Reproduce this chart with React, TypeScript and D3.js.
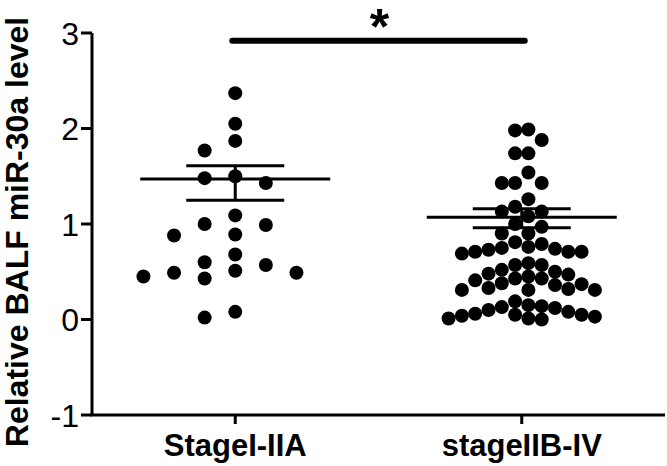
import React from 'react';
import * as d3 from 'd3';

const categories = ['StageI-IIA', 'stageIIB-IV'];

const stageIValues = [
  2.37, 2.05, 1.87, 1.77, 1.50, 1.48, 1.43, 1.09, 1.00, 0.99, 0.89, 0.88,
  0.68, 0.60, 0.57, 0.51, 0.49, 0.49, 0.45, 0.43, 0.08, 0.02,
];

const stageIIValues = [
  0.04,
  0.52, 0.15,
  0.73, 0.57, 0.41, 0.12,
  0.90, 0.74, 0.36, 0.14,
  1.13, 0.81, 0.57, 0.37, 0.01,
  1.88, 1.54, 1.13, 0.69, 0.32, 0.13,
  1.99, 1.74, 1.43, 0.97, 0.79, 0.50, 0.33, 0.01,
  1.74, 1.43, 1.00, 0.76, 0.48, 0.31, 0.03,
  1.98, 1.43, 1.26, 1.08, 0.90, 0.71, 0.47, 0.19, 0.00,
  1.18, 0.71, 0.43, 0.06,
  0.75, 0.59, 0.38, 0.10,
  0.71, 0.43, 0.05,
  0.45, 0.31, 0.05,
  0.31, 0.08,
];

const meanValues = [1.47, 1.07];
const errUpper = [1.61, 1.16];
const errLower = [1.25, 0.96];

const yTicks = [-1, 0, 1, 2, 3];
const yLabel = 'Relative BALF miR-30a level';
const sigLabel = '*';
const sigLevel = 2.92;

const W = 667;
const H = 466;
const FONT = 'Arial, "Liberation Sans", Helvetica, sans-serif';

function swarm(
  values: number[],
  yPos: (v: number) => number,
  step: number,
  sx: number,
  sy: number,
  half: boolean
): number[] {
  const order = d3.range(values.length).sort((a, b) => values[b] - values[a]);
  const placed: { x: number; y: number }[] = [];
  const out: number[] = new Array(values.length).fill(0);
  const cands: number[] = [];
  for (let k = 0; k < 40; k++) {
    if (half) {
      cands.push((k + 0.5) * step, -(k + 0.5) * step);
    } else if (k === 0) {
      cands.push(0);
    } else {
      cands.push(-k * step, k * step);
    }
  }
  for (const i of order) {
    const py = yPos(values[i]);
    for (const cx of cands) {
      const ok = placed.every(
        (p) => ((p.x - cx) / sx) ** 2 + ((p.y - py) / sy) ** 2 >= 1 - 1e-6
      );
      if (ok) {
        out[i] = cx;
        placed.push({ x: cx, y: py });
        break;
      }
    }
  }
  return out;
}

export default function App() {
  const x = d3.scaleBand<string>().domain(categories).range([92, 665]).padding(0);
  const y = d3.scaleLinear().domain([-1, 3]).range([415, 33]);
  const cx = (c: string) => (x(c) as number) + x.bandwidth() / 2;

  const groups = [stageIValues, stageIIValues];
  const swarmParams = [
    { step: 15.3, sx: 30.6, sy: 15, half: false },
    { step: 13.3, sx: 13.3, sy: 13.3, half: true },
  ];
  const offsets = groups.map((vals, gi) => {
    const p = swarmParams[gi];
    return swarm(vals, (v) => y(v), p.step, p.sx, p.sy, p.half);
  });

  const meanHalf = 95;
  const capHalf = 49;
  const lw = 3;

  return (
    <svg
      width={W}
      height={H}
      style={{ position: 'absolute', left: 0, top: 0, background: '#fff' }}
      fontFamily={FONT}
    >
      <rect x={0} y={0} width={W} height={H} fill="#fff" />
      {/* y axis */}
      <line x1={92} x2={92} y1={y(3)} y2={y(-1)} stroke="#000" strokeWidth={lw} />
      {yTicks.map((t) => (
        <g key={t}>
          <line x1={81} x2={92} y1={y(t)} y2={y(t)} stroke="#000" strokeWidth={lw} />
          <text
            x={79}
            y={y(t)}
            dy="0.36em"
            textAnchor="end"
            fontSize={32}
            fill="#000"
          >
            {t}
          </text>
        </g>
      ))}
      {/* x axis */}
      <line x1={90.5} x2={665} y1={y(-1)} y2={y(-1)} stroke="#000" strokeWidth={lw} />
      {categories.map((c) => (
        <g key={c}>
          <line x1={cx(c)} x2={cx(c)} y1={y(-1)} y2={y(-1) + 9} stroke="#000" strokeWidth={lw} />
          <text
            x={cx(c)}
            y={456}
            textAnchor="middle"
            fontSize={31}
            fontWeight="bold"
            fill="#000"
          >
            {c}
          </text>
        </g>
      ))}
      {/* y label */}
      <text
        transform={`translate(28, 232) rotate(-90)`}
        textAnchor="middle"
        fontSize={32}
        fontWeight="bold"
        fill="#000"
      >
        {yLabel}
      </text>
      {/* points */}
      {groups.map((vals, gi) =>
        vals.map((v, i) => (
          <circle
            key={`${gi}-${i}`}
            cx={cx(categories[gi]) + offsets[gi][i]}
            cy={y(v)}
            r={7}
            fill="#000"
          />
        ))
      )}
      {/* mean and error bars */}
      {categories.map((c, gi) => (
        <g key={`m-${c}`} stroke="#000" strokeWidth={lw}>
          <line x1={cx(c) - meanHalf} x2={cx(c) + meanHalf} y1={y(meanValues[gi])} y2={y(meanValues[gi])} />
          <line x1={cx(c) - capHalf} x2={cx(c) + capHalf} y1={y(errUpper[gi])} y2={y(errUpper[gi])} />
          <line x1={cx(c) - capHalf} x2={cx(c) + capHalf} y1={y(errLower[gi])} y2={y(errLower[gi])} />
          <line x1={cx(c)} x2={cx(c)} y1={y(errUpper[gi])} y2={y(errLower[gi])} />
        </g>
      ))}
      {/* significance */}
      <line
        x1={cx(categories[0]) - 3}
        x2={cx(categories[1]) + 3}
        y1={y(sigLevel)}
        y2={y(sigLevel)}
        stroke="#000"
        strokeWidth={6}
        strokeLinecap="round"
      />
      <text
        x={(cx(categories[0]) + cx(categories[1])) / 2 + 1}
        y={y(sigLevel) + 3}
        textAnchor="middle"
        fontSize={50}
        fontWeight="bold"
        fill="#000"
      >
        {sigLabel}
      </text>
    </svg>
  );
}
